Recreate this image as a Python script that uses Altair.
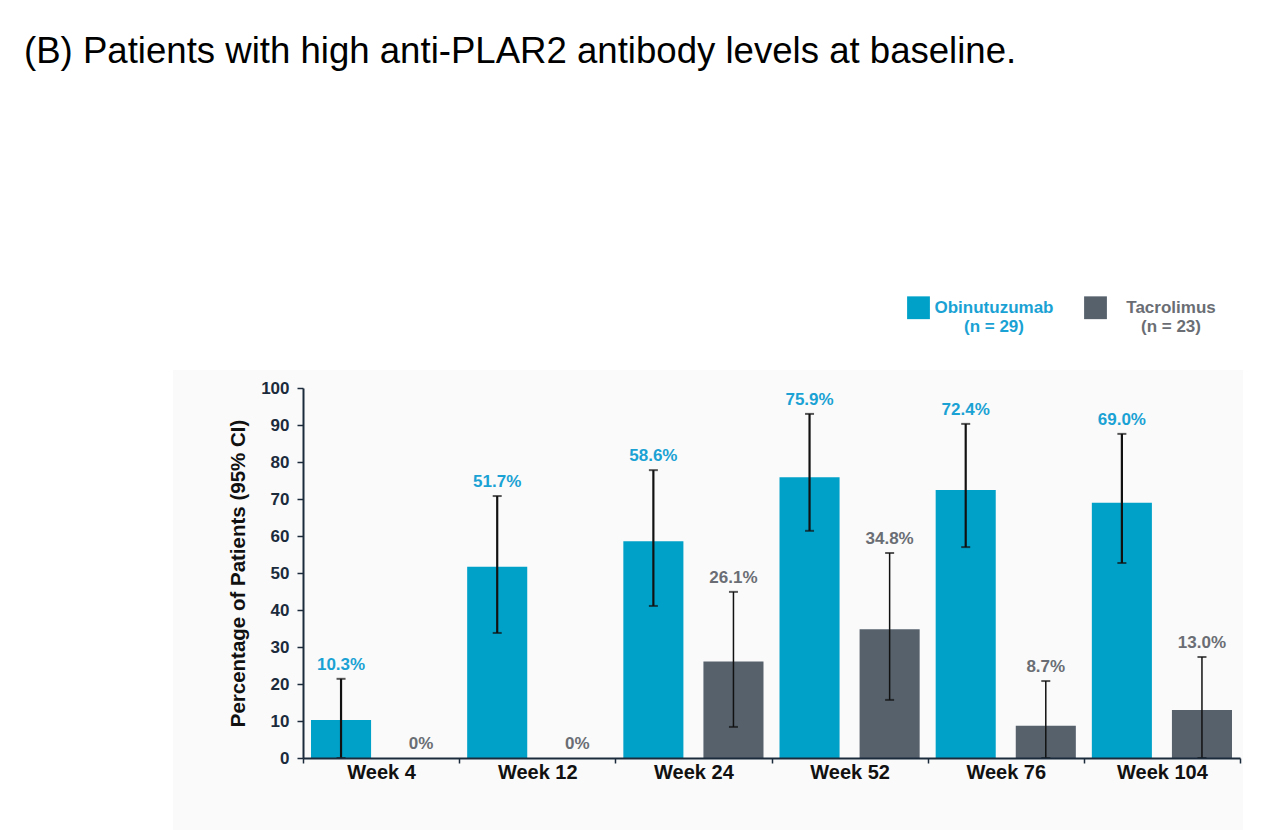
import altair as alt
import pandas as pd

weeks = ["Week 4", "Week 12", "Week 24", "Week 52", "Week 76", "Week 104"]
groups = ["Obinutuzumab", "Tacrolimus"]
group_n = [29, 23]

obi_pct = [10.3, 51.7, 58.6, 75.9, 72.4, 69.0]
obi_lo = [0.0, 33.8, 41.1, 61.4, 57.0, 52.7]
obi_hi = [21.4, 70.8, 77.8, 93.0, 90.3, 87.6]

tac_pct = [0.0, 0.0, 26.1, 34.8, 8.7, 13.0]
tac_lo = [None, None, 8.4, 15.7, 0.0, 0.0]
tac_hi = [None, None, 44.9, 55.4, 20.8, 27.3]

y_ticks = [0, 10, 20, 30, 40, 50, 60, 70, 80, 90, 100]

FONT = "Liberation Sans"
BAR_COLORS = ["#00a1c9", "#56616c"]
TEXT_COLORS = ["#1aa2d4", "#6a6e74"]
AXIS_COLOR = "#1b2b3c"

rows = []
for i, w in enumerate(weeks):
    rows.append(dict(week=w, group=groups[0], pct=obi_pct[i], lo=obi_lo[i], hi=obi_hi[i]))
    rows.append(dict(week=w, group=groups[1], pct=tac_pct[i], lo=tac_lo[i], hi=tac_hi[i]))
df = pd.DataFrame(rows)
df["label_y"] = df["hi"].fillna(df["pct"])
df["label"] = ["0%" if p == 0 else f"{p:.1f}%" for p in df["pct"]]

label_expr = (
    f"datum.value == '{groups[0]}' ? ['{groups[0]}', '(n = {group_n[0]})'] : "
    f"['{groups[1]}', '(n = {group_n[1]})']"
)

x_enc = alt.X(
    "week:N", sort=weeks,
    scale=alt.Scale(paddingInner=0, paddingOuter=0),
    axis=alt.Axis(
        title=None, labelAngle=0, labelFont=FONT, labelFontSize=20, labelFontWeight="bold",
        labelColor="#111111", domainColor=AXIS_COLOR, domainWidth=2, tickColor=AXIS_COLOR,
        tickSize=5, tickWidth=1.5, tickBand="extent", labelPadding=-1, grid=False, zindex=1,
    ),
)
xo_enc = alt.XOffset("group:N", sort=groups, scale=alt.Scale(paddingInner=0.25, paddingOuter=0.1))
y_scale = alt.Scale(domain=[0, 100], nice=False)
y_axis = alt.Axis(
    title="Percentage of Patients (95% CI)", values=y_ticks, grid=False, labelOverlap=False,
    labelFont=FONT, labelFontSize=17, labelFontWeight="bold", labelColor=AXIS_COLOR,
    domainColor=AXIS_COLOR, domainWidth=2, tickColor=AXIS_COLOR, tickSize=6, tickWidth=1.5,
    labelPadding=8, titleFont=FONT, titleFontSize=20.5, titleFontWeight="bold",
    titleColor="#111111", titlePadding=12, zindex=1,
)


def yq(field):
    return alt.Y(f"{field}:Q", scale=y_scale, axis=y_axis)


base = alt.Chart(df)

bars = base.mark_bar().encode(
    x=x_enc, xOffset=xo_enc, y=yq("pct"),
    color=alt.Color(
        "group:N", sort=groups,
        scale=alt.Scale(domain=groups, range=BAR_COLORS),
        legend=alt.Legend(
            title=None, orient="none", legendX=604, legendY=-92, direction="horizontal",
            symbolType="square", symbolSize=520, symbolStrokeWidth=0, symbolOpacity=1,
            labelFont=FONT, labelFontSize=17, labelFontWeight="bold", labelAlign="center",
            labelColor={"expr": f"datum.value == '{groups[0]}' ? '{TEXT_COLORS[0]}' : '{TEXT_COLORS[1]}'"},
            labelExpr=label_expr, labelOffset=64, labelLimit=0, columnPadding=30, padding=0,
        ),
    ),
)

rules = base.mark_rule(color="#111111").encode(
    x=x_enc, xOffset=xo_enc, y=yq("lo"), y2="hi:Q",
    strokeWidth=alt.condition(f"datum.group == '{groups[0]}'", alt.value(2.2), alt.value(1.5)),
)
caps_hi = base.mark_tick(color="#111111", size=9, thickness=2).encode(
    x=x_enc, xOffset=xo_enc, y=yq("hi"),
)
caps_lo = base.mark_tick(color="#111111", size=9, thickness=2).encode(
    x=x_enc, xOffset=xo_enc, y=yq("lo"),
)
labels = base.mark_text(font=FONT, fontSize=17, fontWeight="bold", baseline="bottom", dy=-5).encode(
    x=x_enc, xOffset=xo_enc, y=yq("label_y"), text="label:N",
    color=alt.condition(f"datum.group == '{groups[0]}'", alt.value(TEXT_COLORS[0]), alt.value(TEXT_COLORS[1])),
)

panel = alt.Chart(pd.DataFrame({"p": [0]})).mark_rect(fill="#fafafa").encode(
    x=alt.value(-130), x2=alt.value(940), y=alt.value(-18), y2=alt.value(442),
)

chart = alt.layer(panel, bars, rules, caps_hi, caps_lo, labels).properties(
    width=937, height=370,
    autosize="none",
    padding={"left": 303, "top": 388, "right": 40, "bottom": 72},
    background="white",
    title=alt.TitleParams(
        "(B) Patients with high anti-PLAR2 antibody levels at baseline.",
        anchor="start", frame="group", font=FONT, fontSize=36.6, fontWeight="normal",
        color="#000000", dx=-279, dy=-225, offset=0,
    ),
).configure_view(stroke=None)

chart.save("out.html", embed_options={"renderer": "svg", "actions": False})
